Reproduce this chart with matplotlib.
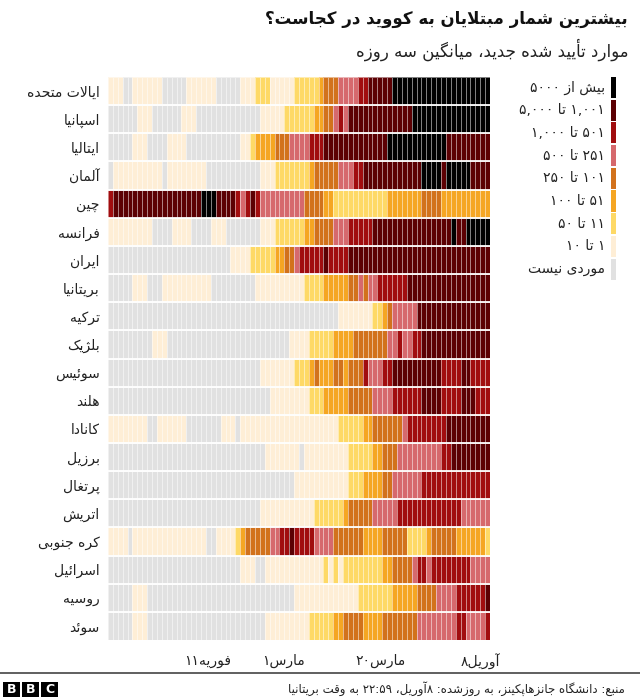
import re
import numpy as np
import matplotlib
matplotlib.use("Agg")
import matplotlib.pyplot as plt
from matplotlib.colors import ListedColormap, BoundaryNorm
from matplotlib.patches import Rectangle
from matplotlib.lines import Line2D

plt.rcParams['font.family'] = ['DejaVu Sans']

# ---------------- data ----------------
title = "بیشترین شمار مبتلایان به کووید در کجاست؟"
subtitle = "موارد تأیید شده جدید، میانگین سه روزه"
footer = "منبع: دانشگاه جانزهاپکینز، به روزشده: ۸آوریل، ۲۲:۵۹ به وقت بریتانیا"

countries = ["ایالات متحده", "اسپانیا", "ایتالیا", "آلمان", "چین", "فرانسه",
             "ایران", "بریتانیا", "ترکیه", "بلژیک", "سوئیس", "هلند", "کانادا",
             "برزیل", "پرتغال", "اتریش", "کره جنوبی", "اسرائیل", "روسیه", "سوئد"]

# one digit per day (22 Jan .. 8 Apr), 0 = no cases ... 8 = more than 5000
levels = [
    "111 00 111111 00000 111111 00000 111 222 11111 22222 3 444 5555 66 77777 88888888888888888888",
    "000000 111 000000 111 0000000000000 11111 222222 33 44 5 6 5 7777777777777 8888888888888888",
    "00000 111 0000 1111 00000000000 11 2 3333 444 5555 666 7777777777777 888888888888 777777777",
    "0 1111111111 0 11111111 00000000000 111 2222222 3 44444 555 66 777777777777 8888 7 88888 7777",
    "6 777777777777777777 888 7777 6 5 6 7 6 555555555 4444 33 22222222222 3333333 4444 3333333333",
    "111111111 0000 1111 0000 111 0000000 111 222222 33 4444 555 66666 7777777777777777 8 77 88888",
    "0000000000000000000000000 1111 22222 33 44 5 66666 7 6666 77777777777777777777777777777",
    "00000 111 000 1111111111 000000000 1111111111 2222 33333 44 5 4 55 666666 77777777777777777",
    "00000000000000000000000000000000000000000000000 1111111 22 3 4 55555 777777777777777",
    "000000000 111 0000000000000000000000000 1111 22222 3333 4444444 55 6 55 66 77777777777777",
    "0000000000000000000000000000000 1111111 222 3 4 333 44 3 444 6 555 66 7777777777 6666 77 6666",
    "000000000000000000000000000000000 11111111 222 33333 44444 5555 666666 7777 6666 777 666",
    "11111111 00 111111 0000000 111 0 11111111111111111111 22222 33 444444 5 66666666 777777777",
    "00000000000000000000000000000000 1111111 0 111111111 22222 33 444 555555555 66 77777777",
    "00000000000000000000000000000000000000 11111111111 222 3333 44 555555 66666666666666",
    "0000000000000000000000000000000 11111111111 222222 3 44444 55555 6666666666666 555555",
    "1111 0 111111111111111 00 1111 2 3 44444 55 66 7 6666 5555 444444 3333 44444 2222 3 44444 3 33333 2",
    "000000000000000000000000000 111 00 111111111111 2 1 2 1 22222222 33 4444 5 66 5 66666666 5555",
    "00000 111 000000000000000000000000000000 1111111111111 2222222 33333 4444 5555 666666 7",
    "00000 111 000000000000000000000000 111111111 22222 33 4444 3333 4444444 55555555 66 5555 6",
]

level_colors = ["#e1e1e1", "#feeed6", "#fed966", "#f5a623", "#d2721c",
                "#d6696d", "#a10d0f", "#5c0003", "#000000"]
legend_labels = ["بیش از ۵۰۰۰", "۱,۰۰۱ تا ۵,۰۰۰", "۵۰۱ تا ۱,۰۰۰", "۲۵۱ تا ۵۰۰",
                 "۱۰۱ تا ۲۵۰", "۵۱ تا ۱۰۰", "۱۱ تا ۵۰", "۱ تا ۱۰", "موردی نیست"]
tick_labels = ["فوریه۱۱", "مارس۱", "مارس۲۰", "آوریل۸"]
tick_pos = [20.4, 35.9, 55.7, 76.1]

# ---------------- Persian shaping + visual ordering ----------------
DUAL = {'ب': 0xFE8F, 'ت': 0xFE95, 'ث': 0xFE99, 'ج': 0xFE9D, 'ح': 0xFEA1, 'خ': 0xFEA5,
        'س': 0xFEB1, 'ش': 0xFEB5, 'ص': 0xFEB9, 'ض': 0xFEBD, 'ط': 0xFEC1, 'ظ': 0xFEC5,
        'ع': 0xFEC9, 'غ': 0xFECD, 'ف': 0xFED1, 'ق': 0xFED5, 'ك': 0xFED9, 'ل': 0xFEDD,
        'م': 0xFEE1, 'ن': 0xFEE5, 'ه': 0xFEE9, 'ي': 0xFEF1, 'ئ': 0xFE89, 'پ': 0xFB56,
        'چ': 0xFB7A, 'ک': 0xFB8E, 'گ': 0xFB92, 'ی': 0xFBFC}
RIGHT = {'ا': 0xFE8D, 'آ': 0xFE81, 'أ': 0xFE83, 'إ': 0xFE87, 'ؤ': 0xFE85, 'د': 0xFEA9,
         'ذ': 0xFEAB, 'ر': 0xFEAD, 'ز': 0xFEAF, 'و': 0xFEED, 'ة': 0xFE93, 'ژ': 0xFB8A}
LAM_ALEF = {'ا': (0xFEFB, 0xFEFC), 'آ': (0xFEF5, 0xFEF6),
            'أ': (0xFEF7, 0xFEF8), 'إ': (0xFEF9, 0xFEFA)}
DIGITS = "0123456789۰۱۲۳۴۵۶۷۸۹"


def jtype(c):
    if c in DUAL:
        return 'D'
    if c in RIGHT:
        return 'R'
    return 'U'


def fa(text):
    out = []
    n = len(text)
    i = 0
    while i < n:
        c = text[i]
        prev_j = i > 0 and jtype(text[i - 1]) == 'D'
        if c == 'ل' and i + 1 < n and text[i + 1] in LAM_ALEF:
            iso, fin = LAM_ALEF[text[i + 1]]
            out.append(chr(fin if prev_j else iso))
            i += 2
            continue
        t = jtype(c)
        if t == 'U':
            out.append(c)
        elif t == 'R':
            out.append(chr(RIGHT[c] + (1 if prev_j else 0)))
        else:
            next_j = i + 1 < n and jtype(text[i + 1]) in ('D', 'R')
            if prev_j and next_j:
                k = 3
            elif prev_j:
                k = 1
            elif next_j:
                k = 2
            else:
                k = 0
            out.append(chr(DUAL[c] + k))
        i += 1
    shaped = ''.join(out)
    tokens = re.findall(r'[0-9۰-۹]+(?:[,:.][0-9۰-۹]+)*|[^0-9۰-۹]+', shaped)
    return ''.join(tok if tok[0] in DIGITS else tok[::-1] for tok in reversed(tokens))


# ---------------- figure ----------------
W, H = 640, 700
fig = plt.figure(figsize=(W / 100, H / 100), dpi=100)
fig.patch.set_facecolor('white')


def fx(x):
    return x / W


def fy(y):
    return 1 - y / H


grid = np.array([[int(ch) for ch in r.replace(' ', '')] for r in levels])
assert grid.shape == (20, 78), [len(r.replace(' ', '')) for r in levels]
ndays = grid.shape[1]

ax = fig.add_axes([fx(108), fy(640), (490 - 108) / W, (640 - 77) / H])
cmap = ListedColormap(level_colors)
norm = BoundaryNorm(np.arange(-0.5, len(level_colors) + 0.5, 1), len(level_colors))
ax.pcolormesh(np.arange(ndays + 1), np.arange(len(countries) + 1), grid,
              cmap=cmap, norm=norm, edgecolors=(1, 1, 1, 0.5), linewidth=0.55)
ax.set_xlim(0, ndays)
ax.set_ylim(len(countries), 0)
for yb in range(1, len(countries)):
    ax.axhline(yb, color='white', lw=1.3)
for s in ax.spines.values():
    s.set_visible(False)
ax.set_yticks(np.arange(len(countries)) + 0.5)
ax.set_yticklabels([fa(c) for c in countries], fontsize=10, color='#222222')
ax.tick_params(axis='y', length=0, pad=6)
ax.set_xticks(tick_pos)
ax.set_xticklabels([fa(t) for t in tick_labels], fontsize=10, color='#222222')
ax.tick_params(axis='x', length=0, pad=10)

# legend
for k, lvl in enumerate(range(len(level_colors) - 1, -1, -1)):
    top = 77 + k * 22.7
    fig.add_artist(Rectangle((fx(611), fy(top + 21)), 5 / W, 21 / H,
                             facecolor=level_colors[lvl], edgecolor='none',
                             transform=fig.transFigure))
    fig.text(fx(605), fy(top + 10.5), fa(legend_labels[k]), ha='right', va='center',
             fontsize=10, color='#222222')

# titles
fig.text(fx(628), fy(19), fa(title), ha='right', va='center', fontsize=12,
         fontweight='bold', color='#111111')
fig.text(fx(628), fy(50), fa(subtitle), ha='right', va='center', fontsize=12,
         color='#222222')

# footer
fig.add_artist(Line2D([0, 1], [fy(673), fy(673)], color='#444444', lw=1.2,
                      transform=fig.transFigure))
fig.text(fx(625), fy(689), fa(footer), ha='right', va='center', fontsize=8.5,
         color='#222222')
for j, letter in enumerate("BBC"):
    x0 = 3 + j * 19
    fig.add_artist(Rectangle((fx(x0), fy(697)), 17 / W, 15 / H, facecolor='black',
                             edgecolor='none', transform=fig.transFigure))
    fig.text(fx(x0 + 8.5), fy(689.5), letter, ha='center', va='center', fontsize=9,
             fontweight='bold', color='white')

fig.savefig("out.png", dpi=100, facecolor='white')
